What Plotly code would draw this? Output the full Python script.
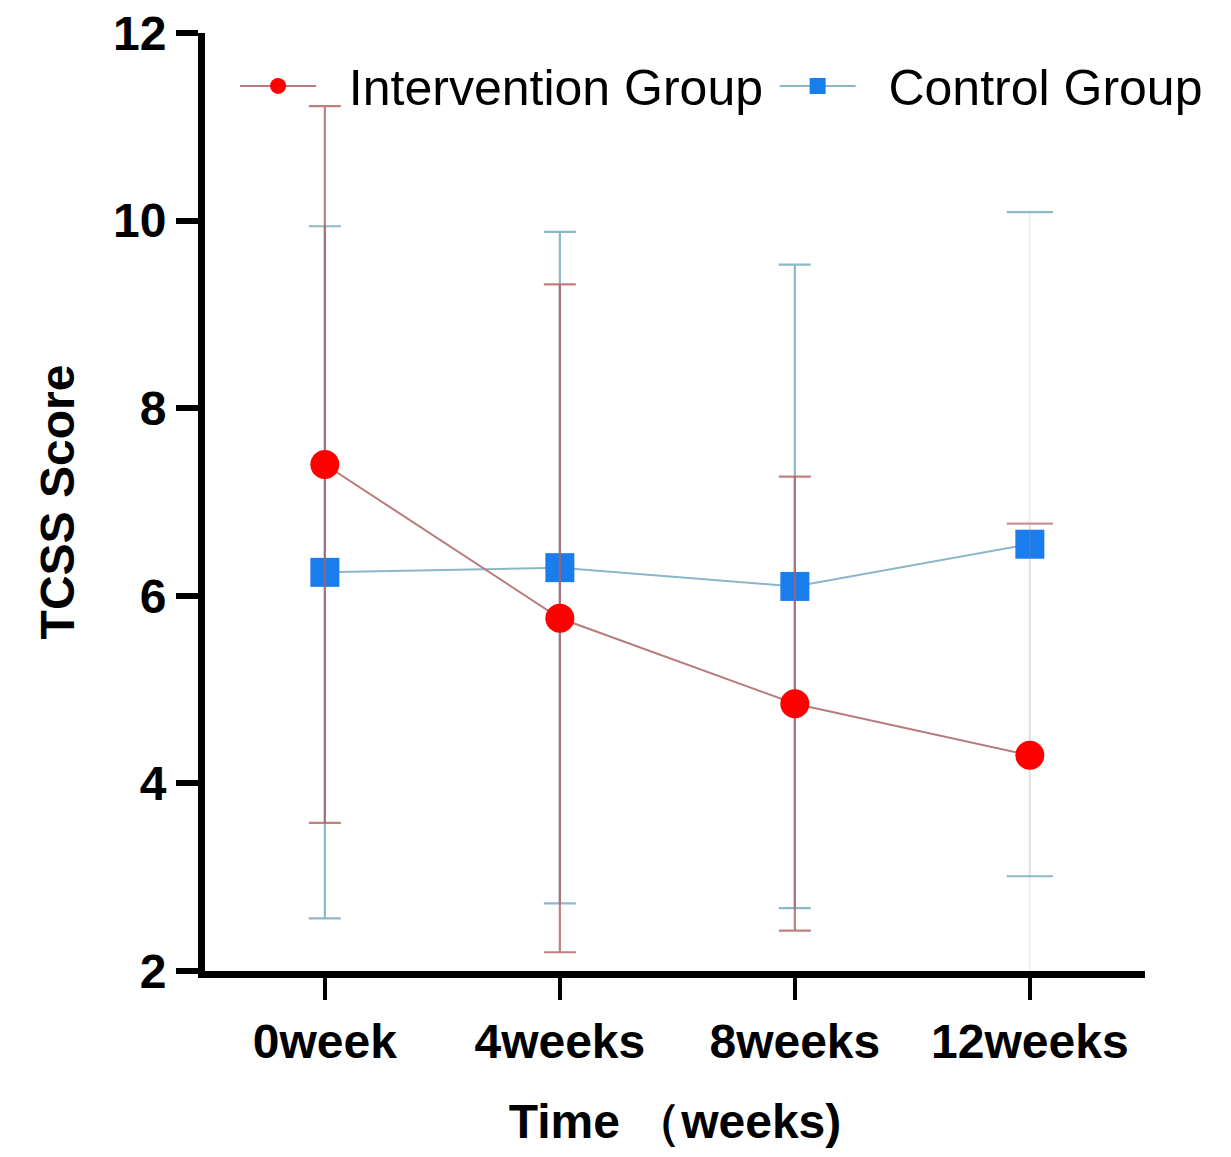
import plotly.graph_objects as go

categories = ["0week", "4weeks", "8weeks", "12weeks"]
intervention_mean = [7.40, 5.76, 4.85, 4.30]
intervention_sd = [3.82, 3.56, 2.42, 2.47]
control_mean = [6.25, 6.30, 6.10, 6.55]
control_sd = [3.69, 3.58, 3.43, 3.54]
y_ticks = [2, 4, 6, 8, 10, 12]

INT_MARK = "#FF0000"
CTRL_MARK = "#1A7DEE"
INT_LINE = "#B87A7A"
CTRL_LINE = "#8AB6CA"
INT_ERR = "rgba(176,96,96,0.8)"
CTRL_ERR = "rgba(111,166,191,0.8)"
INT_FAINT = "rgba(200,130,150,0.16)"
CTRL_FAINT = "rgba(140,170,220,0.16)"

FONT = "Liberation Sans, Arial, sans-serif"
NB = "\u00a0"

fig = go.Figure()


def add_group(name, mean, sd, mark_color, line_color, err_color, faint_color, cap_color, symbol, legend_id):
    n_main = len(categories) - 1
    fig.add_trace(go.Scatter(
        x=categories[:n_main], y=mean[:n_main], mode="markers",
        marker=dict(size=1, color="rgba(0,0,0,0)"),
        error_y=dict(type="data", array=sd[:n_main], color=err_color, thickness=2.2, width=16),
        showlegend=False, hoverinfo="skip"))
    fig.add_trace(go.Scatter(
        x=categories[n_main:], y=mean[n_main:], mode="markers",
        marker=dict(size=1, color="rgba(0,0,0,0)"),
        error_y=dict(type="data", array=sd[n_main:], color=faint_color, thickness=2.2, width=0),
        showlegend=False, hoverinfo="skip"))
    last_caps = [mean[-1] + sd[-1], mean[-1] - sd[-1]]
    fig.add_trace(go.Scatter(
        x=[categories[-1]] * 2, y=last_caps, mode="markers",
        marker=dict(symbol="line-ew", size=33, line=dict(color=cap_color, width=2.2)),
        showlegend=False, hoverinfo="skip"))
    fig.add_trace(go.Scatter(
        x=categories, y=mean, mode="lines+markers", name=name,
        line=dict(color=line_color, width=2),
        marker=dict(symbol=symbol, size=29, color=mark_color),
        legend=legend_id))


add_group(NB * 2 + "Control Group", control_mean, control_sd, CTRL_MARK, CTRL_LINE, CTRL_ERR,
          CTRL_FAINT, "#8DB8CD", "square", "legend2")
add_group(NB * 2 + "Intervention Group", intervention_mean, intervention_sd, INT_MARK,
          INT_LINE, INT_ERR, INT_FAINT, "#C99393", "circle", "legend")

legend_common = dict(
    orientation="h", y=0.9436, xanchor="left", yanchor="middle",
    font=dict(family=FONT, size=50, color="black"),
    bgcolor="rgba(0,0,0,0)", itemwidth=76,
)

fig.update_layout(
    width=1231, height=1157,
    margin=dict(l=197, r=94, t=25, b=194),
    paper_bgcolor="white", plot_bgcolor="white",
    font=dict(family=FONT, color="black"),
    showlegend=True,
    legend=dict(x=0.032, **legend_common),
    legend2=dict(x=0.606, **legend_common),
    xaxis=dict(
        type="category", categoryorder="array", categoryarray=categories,
        range=[-0.51, 3.49], automargin=False, ticklabeloverflow="allow",
        showline=True, linecolor="black", linewidth=7,
        ticks="outside", ticklen=22, tickwidth=4, tickcolor="black",
        showgrid=False, zeroline=False,
        tickfont=dict(family=FONT, size=48, color="black", weight="bold"),
        title=dict(text="Time （weeks)", standoff=40,
                   font=dict(family=FONT, size=48, color="black", weight="bold")),
    ),
    yaxis=dict(
        range=[2, 12], tickvals=y_ticks, ticktext=[str(v) for v in y_ticks],
        automargin=False, ticklabeloverflow="allow",
        showline=True, linecolor="black", linewidth=7,
        ticks="outside", ticklen=22, tickwidth=6, tickcolor="black",
        showgrid=False, zeroline=False,
        tickfont=dict(family=FONT, size=48, color="black", weight="bold"),
        title=dict(text="TCSS Score", standoff=26,
                   font=dict(family=FONT, size=48, color="black", weight="bold")),
    ),
)

fig.write_html("out.html")
